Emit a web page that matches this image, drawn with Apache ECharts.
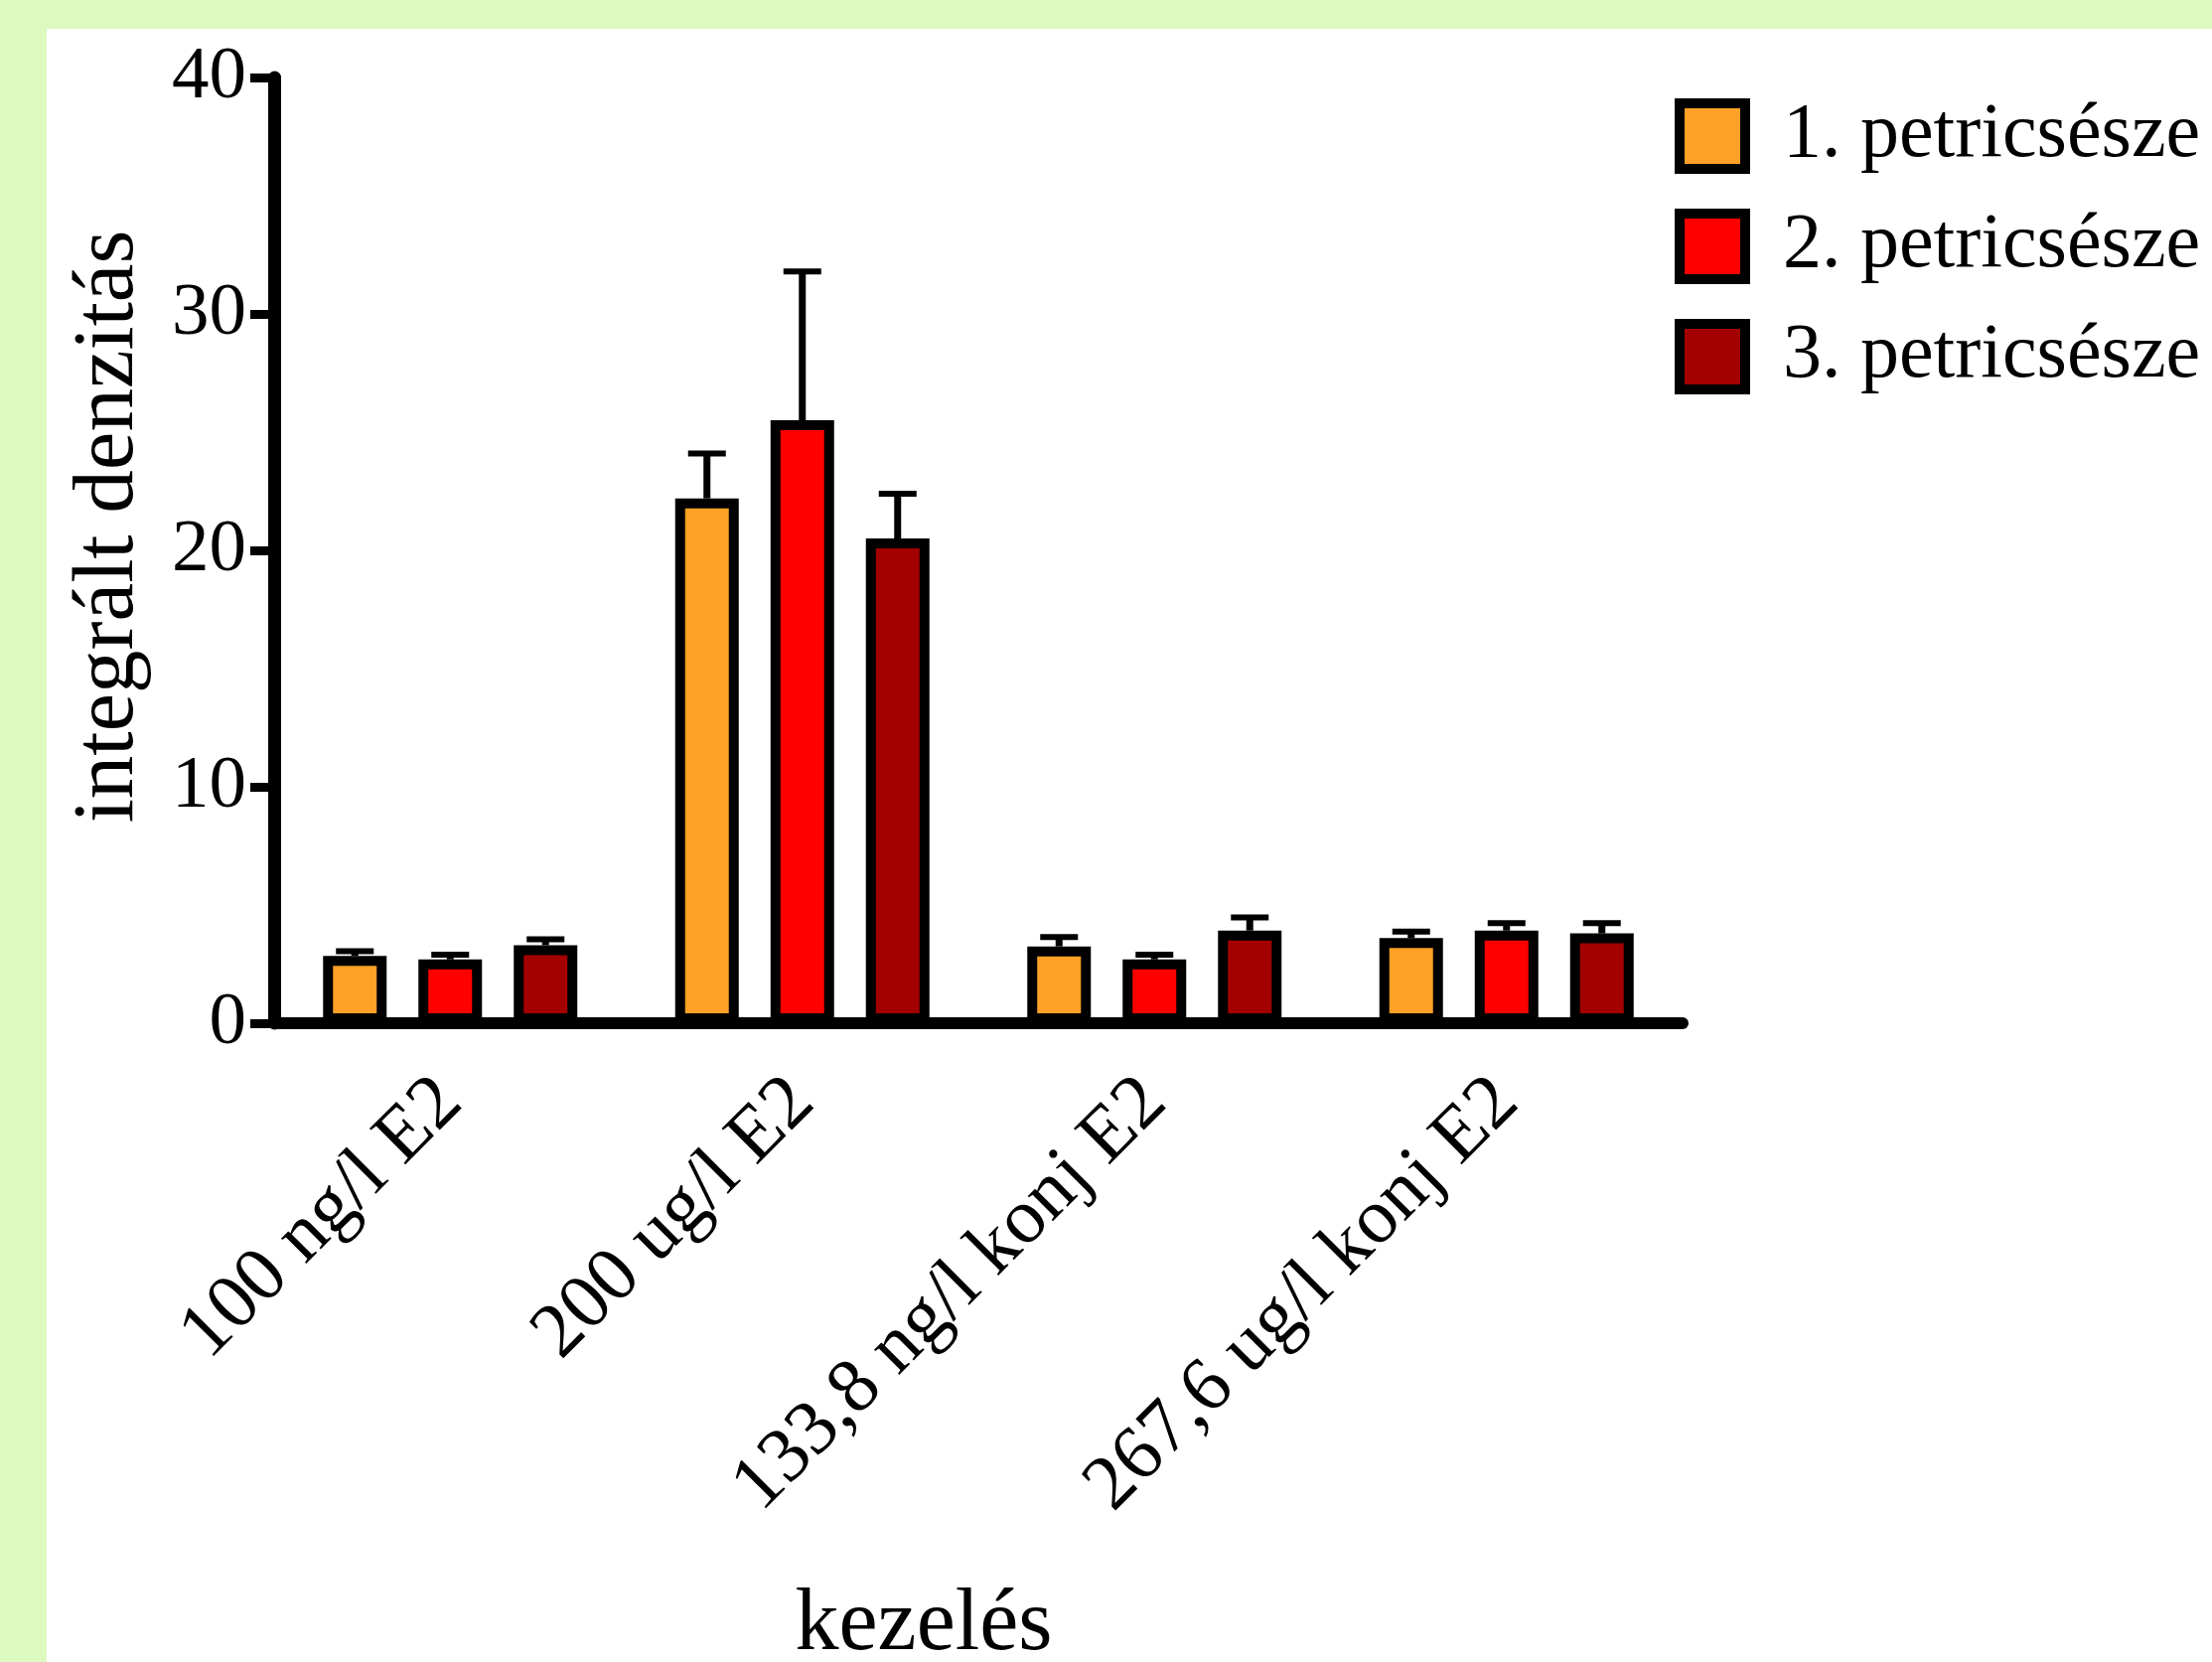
<!DOCTYPE html>
<html>
<head>
<meta charset="utf-8">
<script src="https://cdn.jsdelivr.net/npm/echarts@6/dist/echarts.min.js"></script>
<style>
  html, body { margin:0; padding:0; width:2227px; height:1673px; overflow:hidden; background:#dcf9bf; }
  #panel { position:absolute; left:47px; top:29px; right:0; bottom:0; background:#ffffff; }
  #chart { position:absolute; left:0; top:0; width:2227px; height:1673px; }
</style>
</head>
<body>
<div id="panel"></div>
<div id="chart"></div>
<script>
// ---- data ----
const categories = ['100 ng/l E2', '200 ug/l E2', '133,8 ng/l konj E2', '267,6 ug/l konj E2'];
const seriesNames = ['1. petricsésze', '2. petricsésze', '3. petricsésze'];
const dish1 = [2.85, 22.2, 3.25, 3.6];
const dish2 = [2.7, 25.5, 2.7, 3.92];
const dish3 = [3.3, 20.5, 3.92, 3.8];
// upper end of the error bars
const dish1Err = [3.05, 24.1, 3.65, 3.88];
const dish2Err = [2.9, 31.8, 2.9, 4.23];
const dish3Err = [3.55, 22.4, 4.47, 4.23];
const yTicks = [0, 10, 20, 30, 40];

const colors = ['#ffa126', '#ff0000', '#a30000'];
const values = [dish1, dish2, dish3];
const errs = [dish1Err, dish2Err, dish3Err];

const BAR_W = 64, BAR_GAP = 0.5;
const FONT = '"Liberation Serif", "Times New Roman", serif';

const chart = echarts.init(document.getElementById('chart'), null, { renderer: 'canvas' });

const series = [];
values.forEach((v, i) => {
  series.push({
    name: seriesNames[i],
    type: 'bar',
    data: v,
    barWidth: BAR_W,
    barGap: (BAR_GAP * 100) + '%',
    itemStyle: { color: colors[i], borderColor: '#000', borderWidth: 10 },
    z: 2
  });
});
values.forEach((v, i) => {
  series.push({
    type: 'custom',
    name: seriesNames[i] + ' err',
    data: v.map((val, k) => [k, val, errs[i][k]]),
    z: 3,
    silent: true,
    renderItem: function (params, api) {
      const cat = api.value(0);
      const base = api.coord([cat, api.value(1)]);
      const top = api.coord([cat, api.value(2)]);
      const off = (i - 1) * BAR_W * (1 + BAR_GAP);
      const x = base[0] + off;
      return {
        type: 'group',
        children: [
          { type: 'line', shape: { x1: x, y1: base[1], x2: x, y2: top[1] },
            style: { stroke: '#000', lineWidth: 7 } },
          { type: 'line', shape: { x1: x - 19, y1: top[1], x2: x + 19, y2: top[1] },
            style: { stroke: '#000', lineWidth: 6 } }
        ]
      };
    }
  });
});

chart.setOption({
  backgroundColor: 'transparent',
  animation: false,
  textStyle: { fontFamily: FONT, color: '#000' },
  grid: { left: 276, right: 533, top: 78, bottom: 643, containLabel: false, outerBoundsMode: 'none' },
  legend: {
    data: seriesNames,
    orient: 'vertical',
    left: 1681,
    top: 93,
    icon: 'rect',
    itemWidth: 66,
    itemHeight: 66,
    itemGap: 33,
    itemStyle: { borderColor: '#000', borderWidth: 10 },
    textStyle: { fontFamily: FONT, fontSize: 78, color: '#000', padding: [0, 0, 0, 33], lineHeight: 66, height: 66 }
  },
  xAxis: {
    type: 'category',
    data: categories,
    name: 'kezelés',
    nameLocation: 'middle',
    nameGap: 563,
    nameTextStyle: { fontFamily: FONT, fontSize: 88, color: '#000', padding: [0, 110, 0, 0] },
    axisLine: { lineStyle: { color: '#000', width: 12 } },
    axisTick: { alignWithLabel: true, length: 22, lineStyle: { color: '#000', width: 10 } },
    axisLabel: { rotate: 45, margin: 68, fontFamily: FONT, fontSize: 78, color: '#000' }
  },
  yAxis: {
    type: 'value',
    min: yTicks[0],
    max: yTicks[yTicks.length - 1],
    interval: 10,
    name: 'integrált denzitás',
    nameLocation: 'middle',
    nameRotate: 90,
    nameGap: 122,
    nameTextStyle: { fontFamily: FONT, fontSize: 87, color: '#000', padding: [0, 0, 0, 48] },
    axisLine: { show: true, lineStyle: { color: '#000', width: 13 } },
    axisTick: { show: true, length: 24, lineStyle: { color: '#000', width: 9 } },
    splitLine: { show: false },
    axisLabel: { margin: 28, fontFamily: FONT, fontSize: 75, color: '#000' }
  },
  series: series
});
</script>
</body>
</html>
